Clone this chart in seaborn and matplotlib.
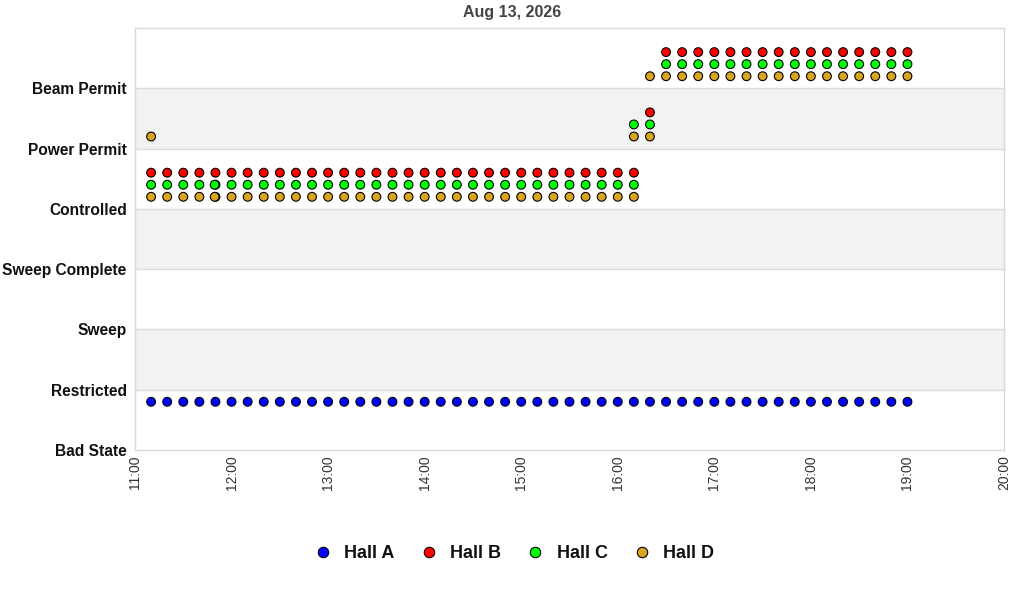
import matplotlib
matplotlib.use("Agg")
import matplotlib.pyplot as plt
import matplotlib.dates as mdates
from matplotlib.lines import Line2D
import seaborn as sns
import pandas as pd

# ---------------- data ----------------
title = "Aug 13, 2026"
state_labels = ["Bad State", "Restricted", "Sweep", "Sweep Complete",
                "Controlled", "Power Permit", "Beam Permit"]
halls = ["Hall A", "Hall B", "Hall C", "Hall D"]
colors = ["#0000ff", "#ff0000", "#00ff00", "#daa520"]

# 10-minute samples 11:10 .. 19:00
sample_times = pd.date_range("2026-08-13 11:10", "2026-08-13 19:00", freq="10min")

hall_a_state = [0] * 48
hall_b_state = [4] * 31 + [5] * 1 + [6] * 16
hall_c_state = [4] * 31 + [5] * 1 + [6] * 16
hall_d_state = [4] * 31 + [5] * 1 + [6] * 16

# extra transition samples (hall, time, state)
extra_hall = ["Hall C", "Hall D", "Hall D", "Hall C", "Hall D", "Hall D"]
extra_time = ["2026-08-13 11:49:30", "2026-08-13 11:49:30", "2026-08-13 11:10",
              "2026-08-13 16:10", "2026-08-13 16:10", "2026-08-13 16:20"]
extra_state = [4, 4, 5, 5, 5, 6]

x_range = ("2026-08-13 11:00", "2026-08-13 20:00")

# ---------------- build table ----------------
rows = []
for hall, states in zip(halls, [hall_a_state, hall_b_state, hall_c_state, hall_d_state]):
    for t, s in zip(sample_times, states):
        rows.append((hall, t, s))
for h, t, s in zip(extra_hall, extra_time, extra_state):
    rows.append((h, pd.Timestamp(t), s))
df = pd.DataFrame(rows, columns=["hall", "time", "state"])
offset = {"Hall A": 0.8, "Hall B": 0.6, "Hall C": 0.4, "Hall D": 0.2}
df["y"] = df["state"] + df["hall"].map(offset)

# ---------------- plot ----------------
sns.set_theme(style="white")
plt.rcParams["font.family"] = ["Liberation Sans", "DejaVu Sans"]
plt.rcParams["text.color"] = "#111111"

fig = plt.figure(figsize=(10.24, 6.0), dpi=100)
ax = fig.add_axes([135 / 1024, 1 - 450 / 600, (1004 - 135) / 1024, (450 - 28) / 600])

for lo in (1, 3, 5):
    ax.axhspan(lo, lo + 1, color="#f2f2f2", zorder=0, lw=0)
for yv in range(1, 7):
    ax.axhline(yv, color="#dcdcdc", lw=1, zorder=1)

palette = dict(zip(halls, colors))
sns.scatterplot(data=df, x="time", y="y", hue="hall", palette=palette,
                hue_order=halls, s=40, edgecolor="black", linewidth=0.8,
                legend=False, ax=ax, zorder=3)

ax.set_xlim(pd.Timestamp(x_range[0]), pd.Timestamp(x_range[1]))
ax.set_ylim(0, 7)
ax.set_yticks(range(len(state_labels)))
ax.set_yticklabels(state_labels, fontsize=11.2, fontweight="bold", color="#111111")
ax.xaxis.set_major_locator(mdates.HourLocator())
ax.xaxis.set_major_formatter(mdates.DateFormatter("%H:%M"))
ax.tick_params(axis="x", labelrotation=90, labelsize=10, colors="#333333",
               length=0, pad=4)
ax.tick_params(axis="y", length=0, pad=6)
ax.set_xlabel("")
ax.set_ylabel("")
for sp in ax.spines.values():
    sp.set_color("#d8d8d8")
    sp.set_linewidth(1)

fig.text(0.5, 1 - 13 / 600, title, ha="center", va="center",
         fontsize=11.5, fontweight="bold", color="#444444")

handles = [Line2D([], [], marker="o", ls="", markersize=7.5,
                  markerfacecolor=c, markeredgecolor="black", markeredgewidth=0.8)
           for c in colors]
leg = fig.legend(handles, halls, loc="center", bbox_to_anchor=(0.501, 1 - 554 / 600),
                 ncol=4, frameon=False, handletextpad=0.58, columnspacing=1.3,
                 handlelength=1.2,
                 prop={"weight": "bold", "size": 13})
for t in leg.get_texts():
    t.set_color("#111111")

fig.savefig("out.png", dpi=100)
